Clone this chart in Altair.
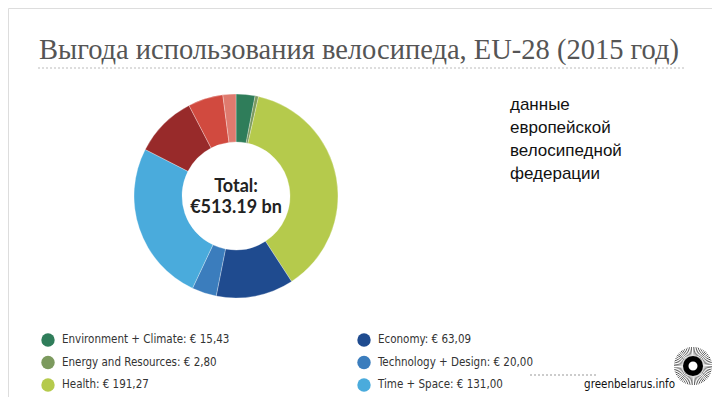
import altair as alt
import pandas as pd

# ---- data ----
categories = ["Environment + Climate", "Energy and Resources", "Health", "Economy",
              "Technology + Design", "Time + Space", "Mobility", "Society", "Other"]
values = [15.43, 2.80, 191.27, 63.09, 20.00, 131.00, 50.5, 28.5, 10.6]
colors = ["#2f7d5a", "#7c9a5e", "#b5ca4c", "#1f4b8f", "#3b7dbd", "#4aabdc",
          "#982a2a", "#d14a3f", "#df7a6e"]
value_labels = ["15,43", "2,80", "191,27", "63,09", "20,00", "131,00"]
legend_count = 6

title_text = "Выгода использования велосипеда, EU-28 (2015 год)"
note_lines = ["данные", "европейской", "велосипедной", "федерации"]
total_lines = ["Total:", "€513.19 bn"]

W, H = 704, 389
OX, OY = -8, -8  # page -> plot offset

def px(x):
    return x + OX

def py(y):
    return y + OY

COND = "DejaVu Sans Condensed, Liberation Sans Narrow, Roboto Condensed, sans-serif"

donut_df = pd.DataFrame({"cat": categories, "value": values, "color": colors,
                         "idx": list(range(len(categories)))})

donut = alt.Chart(donut_df).mark_arc(radius=102, radius2=54, stroke="white", strokeWidth=0.3).encode(
    theta=alt.Theta("value:Q", stack=True),
    order=alt.Order("idx:Q"),
    color=alt.Color("color:N", scale=None),
    x=alt.value(px(236)), y=alt.value(py(196)),
)

total = alt.Chart(pd.DataFrame({"t": total_lines, "i": [0, 1]})).mark_text(
    font="Lato", fontWeight="bold", fontSize=18, color="#222", align="center", baseline="middle"
).encode(
    text="t:N",
    x=alt.value(px(236)),
    y=alt.Y("i:Q", scale=alt.Scale(domain=[0, 1], range=[py(187), py(208)]), axis=None),
)

title = alt.Chart(pd.DataFrame({"t": [title_text]})).mark_text(
    font="Liberation Serif", fontSize=28.5, color="#555", align="left", baseline="alphabetic"
).encode(text="t:N", x=alt.value(px(39)), y=alt.value(py(59)))

title_rule = alt.Chart(pd.DataFrame({"a": [0]})).mark_rule(
    color="#bbb", strokeDash=[2, 2], strokeWidth=1
).encode(x=alt.value(px(38)), x2=alt.value(px(685)), y=alt.value(py(68)))

note = alt.Chart(pd.DataFrame({"t": note_lines, "i": list(range(len(note_lines)))})).mark_text(
    font="Liberation Sans", fontSize=17, color="#111", align="left", baseline="middle"
).encode(
    text="t:N",
    x=alt.value(px(510)),
    y=alt.Y("i:Q", scale=alt.Scale(domain=[0, 3], range=[py(105), py(174)]), axis=None),
)

leg_df = pd.DataFrame({
    "label": [f"{c}: € {v}" for c, v in zip(categories[:legend_count], value_labels)],
    "color": colors[:legend_count],
    "col": [i // 3 for i in range(legend_count)],
    "row": [i % 3 for i in range(legend_count)],
})

ysc = alt.Scale(domain=[0, 2], range=[py(340), py(385)])
leg_pts = alt.Chart(leg_df).mark_circle(size=180, opacity=1).encode(
    x=alt.X("col:Q", scale=alt.Scale(domain=[0, 1], range=[px(48), px(364)]), axis=None),
    y=alt.Y("row:Q", scale=ysc, axis=None),
    color=alt.Color("color:N", scale=None),
)
leg_txt = alt.Chart(leg_df).mark_text(
    font=COND, fontSize=11.5, color="#333", align="left", baseline="middle"
).encode(
    x=alt.X("col:Q", scale=alt.Scale(domain=[0, 1], range=[px(62), px(378)]), axis=None),
    y=alt.Y("row:Q", scale=ysc, axis=None),
    text="label:N",
)

# ---- logo ----
LX, LY = 693, 366
n_spokes = 64
spk = pd.DataFrame({"k": list(range(n_spokes * 2)),
                    "w": [1 if i % 2 == 0 else 1.6 for i in range(n_spokes * 2)],
                    "c": ["#111" if i % 2 == 0 else "white" for i in range(n_spokes * 2)]})
spokes = alt.Chart(spk).mark_arc(radius=19, radius2=8).encode(
    theta=alt.Theta("w:Q", stack=True), order=alt.Order("k:Q"),
    color=alt.Color("c:N", scale=None),
    x=alt.value(px(LX)), y=alt.value(py(LY)),
)
ring = alt.Chart(pd.DataFrame({"a": [0]})).mark_arc(radius=10, radius2=4.5, color="black").encode(
    theta=alt.value(6.2832), x=alt.value(px(LX)), y=alt.value(py(LY)))
logo_rule = alt.Chart(pd.DataFrame({"a": [0]})).mark_rule(
    color="#999", strokeDash=[2, 2], strokeWidth=1
).encode(x=alt.value(px(530)), x2=alt.value(px(598)), y=alt.value(py(375)))
logo_txt = alt.Chart(pd.DataFrame({"t": ["greenbelarus.info"]})).mark_text(
    font=COND, fontSize=11.5, color="#111", align="right", baseline="alphabetic"
).encode(text="t:N", x=alt.value(px(LX - 18)), y=alt.value(py(388)))

chart = alt.layer(
    title_rule, title, donut, total, note, leg_pts, leg_txt,
    logo_rule, spokes, ring, logo_txt
).resolve_scale(x="independent", y="independent", theta="independent").properties(
    width=W, height=H, autosize=alt.AutoSizeParams(type="none"), padding=0
).configure_view(stroke=None).configure(background="white")

chart.save("out.html", embed_options={"renderer": "svg", "actions": False})
